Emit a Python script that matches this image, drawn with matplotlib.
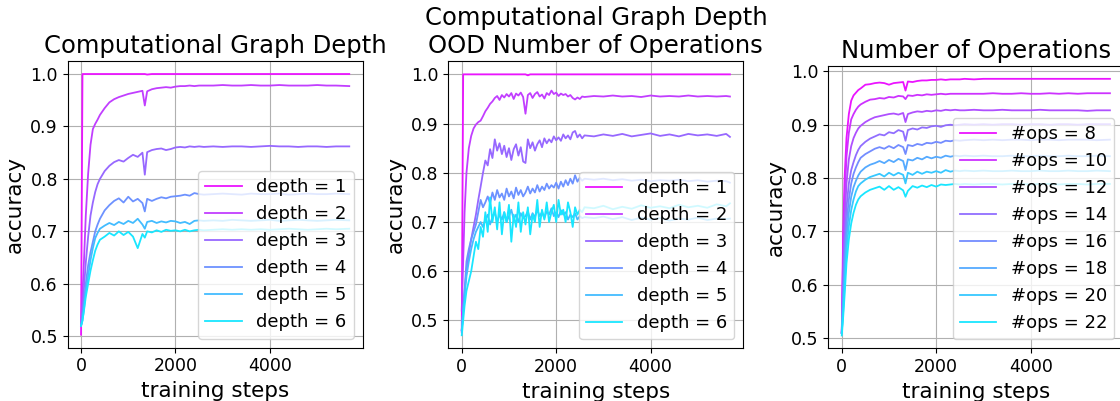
import numpy as np
import matplotlib
matplotlib.use("Agg")
import matplotlib.pyplot as plt
from matplotlib import cm

steps = [0, 30, 60, 100, 150, 200, 250, 300, 350, 400, 500, 600, 700, 800, 900, 1000,
         1100, 1200, 1300, 1350, 1400, 1500, 1600, 1700, 1800, 1900, 2000, 2100, 2200,
         2300, 2400, 2500, 2600, 2800, 3000, 3200, 3400, 3600, 3800, 4000, 4200, 4400,
         4600, 4800, 5000, 5200, 5400, 5680]

steps_mid = ([0, 30, 60, 100, 150, 200, 250, 300, 350]
             + [400, 450, 500, 550, 600, 650, 700, 750, 800, 850, 900, 950, 1000, 1050, 1100,
                1150, 1200, 1250, 1300, 1350, 1400, 1450, 1500, 1550, 1600, 1650, 1700, 1750,
                1800, 1850, 1900, 1950, 2000, 2050, 2100, 2150, 2200, 2250, 2300, 2350, 2400,
                2450, 2500, 2550, 2600]
             + [2800, 3000, 3200, 3400, 3600, 3800, 4000, 4200, 4400, 4600, 4800, 5000, 5200,
                5400, 5600, 5680])

# ---- Panel 1: Computational Graph Depth ----
depth_labels = ["depth = 1", "depth = 2", "depth = 3", "depth = 4", "depth = 5", "depth = 6"]
L_d1 = [0.503, 1.0, 1.0, 1.0, 1.0, 1.0, 1.0, 1.0, 1.0, 1.0, 1.0, 1.0, 1.0, 1.0, 1.0, 1.0,
        1.0, 1.0, 1.0, 1.0, 0.999, 1.0, 1.0, 1.0, 1.0, 1.0, 1.0, 1.0, 1.0,
        1.0, 1.0, 1.0, 1.0, 1.0, 1.0, 1.0, 1.0, 1.0, 1.0, 1.0, 1.0, 1.0,
        1.0, 1.0, 1.0, 1.0, 1.0, 1.0]
L_d2 = [0.52, 0.58, 0.64, 0.73, 0.81, 0.865, 0.895, 0.905, 0.913, 0.922, 0.935, 0.946, 0.952, 0.956, 0.959, 0.962,
        0.964, 0.966, 0.968, 0.94, 0.967, 0.971, 0.973, 0.974, 0.975, 0.974, 0.976, 0.977, 0.977,
        0.978, 0.977, 0.978, 0.978, 0.978, 0.979, 0.978, 0.978, 0.979, 0.978, 0.978, 0.979, 0.978,
        0.978, 0.978, 0.979, 0.978, 0.978, 0.977]
L_d3 = [0.52, 0.55, 0.59, 0.64, 0.69, 0.73, 0.755, 0.775, 0.79, 0.80, 0.815, 0.825, 0.832, 0.836, 0.833, 0.84,
        0.846, 0.842, 0.85, 0.808, 0.851, 0.855, 0.857, 0.858, 0.855, 0.857, 0.86, 0.861, 0.86,
        0.862, 0.861, 0.862, 0.861, 0.862, 0.861, 0.862, 0.862, 0.861, 0.862, 0.863, 0.862, 0.862,
        0.861, 0.862, 0.862, 0.861, 0.862, 0.862]
L_d4 = [0.52, 0.54, 0.565, 0.60, 0.635, 0.66, 0.68, 0.70, 0.713, 0.724, 0.74, 0.75, 0.758, 0.763, 0.755, 0.766,
        0.757, 0.762, 0.754, 0.738, 0.762, 0.758, 0.762, 0.765, 0.763, 0.766, 0.767, 0.768, 0.77,
        0.768, 0.773, 0.771, 0.77, 0.771, 0.772, 0.771, 0.77, 0.772, 0.771, 0.771, 0.772, 0.77,
        0.771, 0.772, 0.771, 0.771, 0.772, 0.771]
L_d5 = [0.52, 0.53, 0.55, 0.585, 0.615, 0.645, 0.668, 0.687, 0.697, 0.705, 0.711, 0.716, 0.712, 0.718, 0.714, 0.72,
        0.716, 0.724, 0.713, 0.705, 0.718, 0.72, 0.716, 0.719, 0.717, 0.72, 0.719, 0.716, 0.718,
        0.714, 0.72, 0.721, 0.72, 0.721, 0.72, 0.722, 0.721, 0.72, 0.721, 0.722, 0.72, 0.721,
        0.722, 0.721, 0.72, 0.721, 0.722, 0.721]
L_d6 = [0.52, 0.53, 0.548, 0.575, 0.60, 0.625, 0.645, 0.663, 0.675, 0.684, 0.69, 0.697, 0.692, 0.70, 0.693, 0.699,
        0.69, 0.668, 0.695, 0.688, 0.70, 0.698, 0.702, 0.699, 0.703, 0.701, 0.702, 0.70, 0.703,
        0.70, 0.702, 0.703, 0.702, 0.703, 0.704, 0.703, 0.704, 0.703, 0.704, 0.703, 0.704, 0.705,
        0.704, 0.703, 0.704, 0.705, 0.704, 0.705]

# ---- Panel 2: Computational Graph Depth, OOD Number of Operations ----
M_d1 = ([0.476, 1.0, 1.0, 1.0, 1.0, 1.0, 1.0, 1.0, 1.0]
        + [1.0, 1.0, 1.0, 1.0, 1.0, 1.0, 1.0, 1.0, 1.0, 1.0, 1.0, 1.0, 1.0, 1.0, 1.0,
           1.0, 1.0, 1.0, 1.0, 1.0, 0.998, 1.0, 1.0, 1.0, 1.0, 1.0, 1.0, 1.0,
           1.0, 1.0, 1.0, 1.0, 1.0, 1.0, 1.0, 1.0, 1.0, 1.0, 1.0, 1.0, 1.0,
           1.0, 1.0, 1.0, 1.0]
        + [1.0, 1.0, 1.0, 1.0, 1.0, 1.0, 1.0, 1.0, 1.0, 1.0, 1.0, 1.0, 1.0, 1.0, 1.0, 1.0])
M_d2 = ([0.52, 0.62, 0.72, 0.80, 0.85, 0.875, 0.89, 0.898, 0.903]
        + [0.906, 0.915, 0.925, 0.932, 0.94, 0.945, 0.952, 0.956, 0.948, 0.958, 0.953, 0.96, 0.955, 0.962, 0.95,
           0.961, 0.957, 0.963, 0.954, 0.92, 0.958, 0.962, 0.952, 0.96, 0.964, 0.955, 0.959, 0.951,
           0.962, 0.958, 0.967, 0.96, 0.963, 0.956, 0.961, 0.958, 0.96, 0.955, 0.958, 0.952,
           0.949, 0.953, 0.95, 0.955, 0.954]
        + [0.956, 0.955, 0.957, 0.955, 0.956, 0.954, 0.957, 0.955, 0.956, 0.955, 0.957, 0.955, 0.956,
           0.955, 0.956, 0.955])
M_d3 = ([0.48, 0.52, 0.56, 0.60, 0.635, 0.665, 0.69, 0.715, 0.745]
        + [0.772, 0.80, 0.825, 0.815, 0.848, 0.83, 0.868, 0.845, 0.86, 0.838, 0.855, 0.832, 0.85, 0.826, 0.848,
           0.858, 0.835, 0.852, 0.823, 0.82, 0.868, 0.85, 0.862, 0.845, 0.858, 0.866, 0.852, 0.87,
           0.86, 0.868, 0.862, 0.874, 0.866, 0.872, 0.865, 0.878, 0.87, 0.876, 0.868, 0.882,
           0.885, 0.872, 0.878, 0.87, 0.876]
        + [0.874, 0.878, 0.875, 0.879, 0.874, 0.877, 0.88, 0.875, 0.878, 0.874, 0.879, 0.876, 0.878,
           0.875, 0.879, 0.873])
M_d4 = ([0.48, 0.52, 0.56, 0.62, 0.645, 0.665, 0.68, 0.695, 0.72]
        + [0.745, 0.73, 0.74, 0.752, 0.738, 0.76, 0.745, 0.765, 0.75, 0.758, 0.745, 0.768, 0.752, 0.762, 0.748,
           0.77, 0.755, 0.765, 0.752, 0.76, 0.772, 0.758, 0.768, 0.76, 0.775, 0.762, 0.772, 0.765,
           0.778, 0.768, 0.775, 0.77, 0.78, 0.768, 0.782, 0.772, 0.785, 0.775, 0.788, 0.778,
           0.795, 0.782, 0.79, 0.784, 0.788]
        + [0.786, 0.788, 0.785, 0.787, 0.784, 0.786, 0.783, 0.785, 0.784, 0.786, 0.783, 0.785, 0.782,
           0.784, 0.783, 0.78])
M_d5 = ([0.48, 0.52, 0.55, 0.59, 0.62, 0.645, 0.665, 0.68, 0.69]
        + [0.70, 0.69, 0.705, 0.715, 0.695, 0.71, 0.72, 0.70, 0.715, 0.705, 0.72, 0.70, 0.712, 0.725, 0.705,
           0.715, 0.70, 0.718, 0.708, 0.712, 0.722, 0.705, 0.718, 0.71, 0.725, 0.712, 0.72, 0.708,
           0.722, 0.715, 0.728, 0.712, 0.72, 0.71, 0.724, 0.715, 0.72, 0.705, 0.715, 0.71,
           0.718, 0.705, 0.712, 0.708, 0.71]
        + [0.708, 0.711, 0.706, 0.71, 0.704, 0.709, 0.705, 0.708, 0.703, 0.707, 0.705, 0.709, 0.704,
           0.707, 0.706, 0.707])
M_d6 = ([0.47, 0.50, 0.53, 0.56, 0.58, 0.60, 0.63, 0.66, 0.645]
        + [0.69, 0.67, 0.72, 0.68, 0.75, 0.70, 0.73, 0.685, 0.74, 0.675, 0.72, 0.70, 0.735, 0.66, 0.715,
           0.69, 0.74, 0.68, 0.72, 0.695, 0.73, 0.675, 0.715, 0.70, 0.745, 0.69, 0.725, 0.705,
           0.74, 0.70, 0.72, 0.735, 0.70, 0.745, 0.715, 0.725, 0.70, 0.74, 0.72, 0.69,
           0.73, 0.715, 0.725, 0.72, 0.73]
        + [0.728, 0.733, 0.726, 0.731, 0.727, 0.734, 0.729, 0.732, 0.728, 0.735, 0.73, 0.733, 0.729,
           0.736, 0.732, 0.738])

# ---- Panel 3: Number of Operations ----
ops_labels = ["#ops = 8", "#ops = 10", "#ops = 12", "#ops = 14", "#ops = 16", "#ops = 18", "#ops = 20", "#ops = 22"]
R_o8 = [0.51, 0.70, 0.80, 0.875, 0.92, 0.945, 0.955, 0.96, 0.965, 0.968, 0.975, 0.976, 0.978, 0.979, 0.978, 0.975,
        0.978, 0.979, 0.98, 0.964, 0.981, 0.98, 0.982, 0.983, 0.983, 0.984, 0.984, 0.985, 0.984,
        0.985, 0.985, 0.985, 0.986, 0.985, 0.986, 0.986, 0.986, 0.986, 0.986, 0.986, 0.986, 0.986,
        0.986, 0.986, 0.986, 0.986, 0.986, 0.986]
R_o10 = [0.51, 0.66, 0.76, 0.84, 0.885, 0.91, 0.92, 0.928, 0.934, 0.938, 0.943, 0.947, 0.948, 0.95, 0.949, 0.952,
         0.951, 0.954, 0.953, 0.948, 0.955, 0.954, 0.956, 0.955, 0.957, 0.956, 0.957, 0.958, 0.957,
         0.958, 0.958, 0.958, 0.958, 0.958, 0.958, 0.959, 0.958, 0.958, 0.959, 0.958, 0.958, 0.959,
         0.958, 0.959, 0.958, 0.959, 0.959, 0.959]
R_o12 = [0.51, 0.63, 0.72, 0.79, 0.835, 0.86, 0.875, 0.885, 0.893, 0.898, 0.905, 0.91, 0.914, 0.916, 0.918, 0.92,
         0.921, 0.919, 0.922, 0.905, 0.92, 0.923, 0.925, 0.924, 0.926, 0.925, 0.927, 0.926, 0.928,
         0.927, 0.928, 0.927, 0.927, 0.928, 0.927, 0.927, 0.928, 0.927, 0.927, 0.927, 0.928, 0.927,
         0.927, 0.927, 0.927, 0.926, 0.927, 0.927]
R_o14 = [0.51, 0.60, 0.68, 0.745, 0.79, 0.815, 0.83, 0.843, 0.853, 0.86, 0.868, 0.874, 0.878, 0.882, 0.88, 0.886,
         0.884, 0.89, 0.887, 0.87, 0.89, 0.893, 0.891, 0.895, 0.894, 0.897, 0.898, 0.896, 0.899,
         0.90, 0.899, 0.90, 0.901, 0.90, 0.901, 0.90, 0.901, 0.901, 0.90, 0.901, 0.901, 0.90,
         0.901, 0.901, 0.90, 0.901, 0.901, 0.901]
R_o16 = [0.51, 0.58, 0.65, 0.715, 0.76, 0.79, 0.808, 0.82, 0.83, 0.838, 0.845, 0.85, 0.855, 0.858, 0.855, 0.86,
         0.856, 0.862, 0.858, 0.845, 0.862, 0.86, 0.864, 0.862, 0.866, 0.865, 0.868, 0.866, 0.87,
         0.869, 0.871, 0.87, 0.871, 0.872, 0.871, 0.872, 0.871, 0.872, 0.872, 0.871, 0.872, 0.872,
         0.871, 0.872, 0.872, 0.872, 0.871, 0.872]
R_o18 = [0.51, 0.56, 0.62, 0.69, 0.735, 0.765, 0.783, 0.795, 0.805, 0.812, 0.82, 0.825, 0.828, 0.832, 0.828, 0.834,
         0.83, 0.836, 0.832, 0.815, 0.835, 0.833, 0.838, 0.835, 0.84, 0.837, 0.84, 0.838, 0.842,
         0.84, 0.842, 0.841, 0.842, 0.841, 0.842, 0.841, 0.841, 0.842, 0.841, 0.841, 0.842, 0.841,
         0.841, 0.842, 0.841, 0.841, 0.842, 0.841]
R_o20 = [0.51, 0.55, 0.60, 0.665, 0.71, 0.74, 0.76, 0.775, 0.785, 0.79, 0.797, 0.802, 0.805, 0.808, 0.803, 0.81,
         0.805, 0.81, 0.806, 0.79, 0.81, 0.806, 0.812, 0.808, 0.812, 0.81, 0.813, 0.81, 0.815,
         0.812, 0.814, 0.813, 0.814, 0.813, 0.814, 0.813, 0.813, 0.814, 0.813, 0.813, 0.814, 0.813,
         0.813, 0.814, 0.813, 0.813, 0.814, 0.813]
R_o22 = [0.505, 0.54, 0.58, 0.64, 0.685, 0.715, 0.735, 0.75, 0.76, 0.766, 0.773, 0.778, 0.781, 0.784, 0.778, 0.785,
         0.778, 0.783, 0.777, 0.765, 0.776, 0.785, 0.782, 0.786, 0.783, 0.787, 0.784, 0.788, 0.787,
         0.788, 0.789, 0.788, 0.789, 0.788, 0.789, 0.789, 0.788, 0.789, 0.789, 0.788, 0.789, 0.789,
         0.788, 0.789, 0.789, 0.788, 0.789, 0.789]

panels = [
    ("Computational Graph Depth", steps, depth_labels, [L_d1, L_d2, L_d3, L_d4, L_d5, L_d6]),
    ("Computational Graph Depth\nOOD Number of Operations", steps_mid, depth_labels,
     [M_d1, M_d2, M_d3, M_d4, M_d5, M_d6]),
    ("Number of Operations", steps, ops_labels, [R_o8, R_o10, R_o12, R_o14, R_o16, R_o18, R_o20, R_o22]),
]

fig = plt.figure(figsize=(11.2, 4.01), dpi=100)
rects = [
    [0.0604, 0.1329, 0.2634, 0.715],
    [0.4003, 0.1314, 0.2634, 0.7157],
    [0.7396, 0.1314, 0.2634, 0.704],
]

for rect, (title, xs, labels, series) in zip(rects, panels):
    ax = fig.add_axes(rect)
    n = len(series)
    colors = cm.cool(np.linspace(0.92, 0.1, n))
    for vals, lab, c in zip(series, labels, colors):
        ax.plot(xs[:len(vals)], vals[:len(xs)], color=c, lw=1.3, label=lab)
    ax.grid(True)
    ax.set_xticks([0, 2000, 4000])
    ax.tick_params(labelsize=12.5)
    ax.set_xlabel("training steps", fontsize=15.5)
    ax.set_ylabel("accuracy", fontsize=15.5)
    ax.set_title(title, fontsize=17.5)
    ax.legend(loc="lower right", fontsize=13)

fig.savefig("out.png", dpi=100)
